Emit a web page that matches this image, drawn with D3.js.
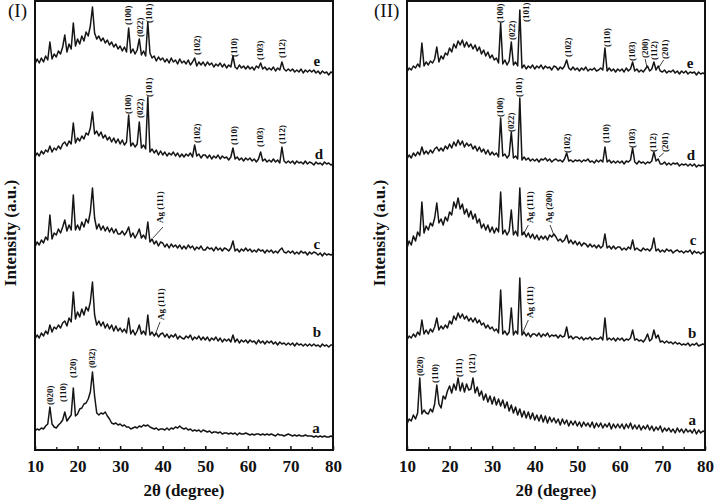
<!DOCTYPE html>
<html>
<head>
<meta charset="utf-8">
<title>XRD patterns</title>
<style>
    body { margin: 0; background: #fff; }
    text { font-family: "Liberation Serif", "Times New Roman", serif; fill: #111; }
</style>
</head>
<body>
<svg id="chart" width="714" height="503"></svg>
<script src="https://d3js.org/d3.v7.min.js"></script>
<script>
// 2-theta sampling grid (0.5 degree steps from 10 to 80)
var theta = d3.range(10, 80.001, 0.5);
var curveNames = ["a", "b", "c", "d", "e"];
var offsets = [0, 95, 190, 280, 370];   // vertical stacking of a..e
var majorTicks = [10, 20, 30, 40, 50, 60, 70, 80];
var minorTicks = [15, 25, 35, 45, 55, 65, 75];

// panel (I) intensities
var leftE = [
16,21,17,22,18,24,20,38,21,26,
23,29,26,33,45,28,36,31,57,34,
41,36,44,39,48,44,54,73,47,41,
44,39,42,37,40,35,38,33,36,31,
34,29,33,28,52,27,31,26,30,41,
25,29,24,58,27,22,24,19,23,20,
22,18,21,17,22,18,20,16,21,17,
19,16,20,15,18,22,14,18,15,18,
14,18,15,17,13,16,14,17,13,16,
12,15,13,24,13,11,15,12,14,11,
14,11,13,10,14,12,17,11,13,10,
12,10,13,9,12,10,18,11,9,11,
9,11,8,10,8,11,7,10,8,10,
8,10,7,9,6,9,7,8,5,8,
7];
var leftD = [
13,17,14,19,16,20,18,24,18,22,
20,24,21,26,28,24,29,26,47,27,
32,29,34,31,37,35,42,58,36,39,
34,38,32,35,30,33,28,32,27,31,
26,30,25,28,55,24,27,23,26,48,
22,25,21,73,18,21,17,20,15,19,
15,18,14,17,15,18,14,17,13,16,
13,16,14,17,13,25,14,16,12,15,
15,12,15,11,14,12,15,11,14,12,
13,10,13,22,11,13,10,12,9,12,
10,12,9,11,8,11,18,9,11,8,
10,8,11,8,10,7,23,9,7,9,
7,9,6,9,7,8,6,9,6,8,
7,5,8,6,7,5,8,6,7,5,
6];
var leftC = [
13,18,15,20,17,23,20,45,21,27,
25,31,27,33,40,29,35,30,65,30,
35,30,38,33,41,37,48,72,42,31,
36,30,34,29,33,28,32,27,31,26,
26,29,25,28,33,23,27,22,26,31,
22,25,21,38,18,21,16,19,14,18,
17,13,16,12,16,13,15,12,15,11,
14,11,15,12,14,10,13,11,14,10,
10,13,11,12,9,13,10,12,9,12,
11,9,12,19,9,11,8,11,9,12,
9,11,8,10,8,11,9,10,7,10,
8,10,7,9,7,10,12,8,7,9,
7,9,6,8,6,9,7,8,5,8,
6,8,7,5,7,4,7,5,6,5,
6];
var leftB = [
16,20,17,22,19,24,21,30,23,28,
26,30,27,32,34,29,37,33,63,36,
43,38,46,40,48,44,53,73,40,30,
34,29,33,27,31,26,30,24,29,24,
27,23,26,22,37,21,25,20,24,30,
21,24,20,40,20,23,19,22,18,21,
22,18,21,17,20,18,21,16,19,17,
16,19,17,20,15,18,16,19,15,18,
15,18,14,17,15,18,14,17,13,16,
14,16,13,20,13,16,12,15,13,15,
12,15,13,14,11,15,12,14,11,14,
12,14,11,13,10,13,11,12,10,12,
10,12,9,12,10,11,9,11,9,11,
9,11,9,10,8,11,9,10,8,10,
10];
var leftA = [
19,21,20,22,21,24,26,43,26,23,
22,25,27,30,38,29,32,35,62,34,
36,41,42,46,47,51,58,78,54,37,
35,37,36,38,34,31,27,26,27,25,
26,24,25,23,23,21,22,23,22,24,
23,25,24,25,23,22,21,22,20,21,
21,20,22,20,22,21,23,22,24,22,
21,22,20,21,19,20,19,20,18,20,
19,18,19,17,18,18,17,18,16,17,
17,16,17,16,17,15,17,16,16,17,
16,15,16,15,16,16,15,16,15,16,
15,16,15,14,16,15,15,14,15,16,
15,14,15,14,15,14,14,15,14,14,
14,13,14,13,14,13,14,13,13,14,
13];

// panel (II) intensities
var rightE = [
8,12,10,14,12,16,13,37,14,18,
15,19,17,21,33,18,24,21,27,25,
32,28,36,32,39,35,40,33,38,33,
36,31,35,29,33,26,30,24,28,22,
25,20,22,17,57,16,20,15,19,38,
15,18,14,70,12,15,11,14,12,15,
11,14,12,15,11,14,12,13,10,14,
13,10,13,11,14,20,12,10,13,10,
12,9,12,10,13,9,11,10,12,9,
10,12,10,32,9,12,9,11,8,11,
9,11,8,12,9,11,18,9,11,8,
10,8,11,14,9,11,18,10,14,9,
8,10,7,9,8,10,7,9,6,9,
7,9,6,8,7,8,5,8,6,7,
6];
var rightD = [
11,15,12,17,14,18,15,23,16,19,
16,20,17,21,23,19,22,19,24,21,
26,22,28,24,30,25,29,23,27,24,
26,21,24,19,23,18,21,16,20,15,
18,15,17,13,52,14,16,12,15,38,
12,14,11,72,10,13,10,12,9,11,
9,11,8,11,10,12,9,11,8,10,
11,9,10,8,11,17,9,10,8,10,
9,10,8,10,9,11,8,9,7,10,
8,10,8,23,8,10,7,9,7,9,
7,9,6,9,8,10,22,8,6,9,
7,8,6,8,7,9,18,9,11,6,
6,8,5,7,5,7,6,7,4,6,
5,6,4,6,4,6,3,5,4,5,
4];
var rightC = [
12,19,15,24,19,28,24,58,27,34,
30,37,34,42,57,37,41,35,43,39,
48,45,58,52,62,51,56,46,51,43,
49,41,46,37,41,32,36,30,35,28,
33,27,32,28,68,26,30,25,29,50,
25,29,24,72,25,28,23,27,22,26,
21,25,20,24,21,24,20,25,23,26,
23,19,21,18,20,25,17,20,16,19,
15,18,14,17,16,13,16,13,15,12,
15,12,14,26,12,14,11,14,11,13,
13,10,12,10,13,11,20,10,12,10,
9,12,10,11,9,12,22,9,11,8,
10,8,11,9,10,7,9,10,8,9,
7,9,8,10,6,9,7,8,6,8,
7];
var rightB = [
15,19,17,21,18,23,20,35,21,25,
21,26,23,28,37,25,29,26,30,27,
34,31,39,35,42,37,41,36,39,34,
37,33,37,32,35,30,32,27,30,26,
28,24,26,22,65,21,24,20,23,47,
20,24,21,77,20,23,19,22,18,21,
21,19,22,18,21,19,22,18,20,19,
20,17,20,18,19,28,17,19,16,18,
18,16,18,15,17,16,18,15,17,16,
16,18,15,37,15,17,15,17,14,17,
15,17,14,16,15,17,25,15,16,14,
15,13,16,21,14,16,25,17,20,13,
14,12,14,12,13,11,13,11,12,10,
11,10,12,9,11,10,12,9,10,11,
10];
var rightA = [
26,31,29,35,31,37,72,36,40,37,
36,41,38,46,65,46,42,54,51,59,
64,57,66,60,72,59,67,58,66,60,
61,72,57,63,54,59,50,56,48,54,
46,53,45,51,44,50,42,48,39,45,
37,43,35,41,33,39,32,38,31,37,
30,35,29,35,28,34,27,33,28,32,
27,31,25,31,26,30,24,29,25,29,
24,28,23,28,24,27,23,28,22,27,
23,27,22,26,23,27,21,26,22,26,
22,26,21,26,22,27,21,25,21,25,
20,24,21,25,20,24,19,23,20,24,
18,22,19,22,18,21,17,22,18,21,
17,21,18,20,17,21,16,20,17,19,
18];

// peak labels: [curve, 2theta, intensity at text start, text]
var leftLabels = [
    [4, 31.85, 55, "(100)"], [4, 34.67, 43, "(022)"], [4, 36.8, 57, "(101)"], [4, 48.05, 25, "(102)"],
    [4, 56.75, 23, "(110)"], [4, 62.85, 20, "(103)"], [4, 68.0, 22, "(112)"],
    [3, 31.85, 56, "(100)"], [3, 34.67, 52, "(022)"], [3, 36.8, 73, "(101)"], [3, 48.05, 27, "(102)"],
    [3, 56.75, 25, "(110)"], [3, 62.85, 23, "(103)"], [3, 68.0, 26, "(112)"],
    [2, 39.36, 37, "Ag (111)"],
    [1, 39.6, 35, "Ag (111)"],
    [0, 13.52, 45, "(020)"], [0, 16.58, 48, "(110)"], [0, 18.93, 72, "(120)"], [0, 23.39, 82, "(032)"]
];
var rightLabels = [
    [4, 31.85, 57, "(100)"], [4, 34.67, 40, "(022)"], [4, 37.95, 58, "(101)"], [4, 47.82, 23, "(102)"],
    [4, 56.98, 33, "(110)"], [4, 62.86, 19, "(103)"], [4, 65.9, 22, "(200)"], [4, 68.0, 20, "(112)"], [4, 70.6, 21, "(201)"],
    [3, 31.85, 53, "(100)"], [3, 34.43, 38, "(022)"], [3, 36.3, 73, "(101)"], [3, 47.6, 17, "(102)"],
    [3, 56.75, 27, "(110)"], [3, 62.86, 22, "(103)"], [3, 67.8, 18, "(112)"], [3, 70.6, 18, "(201)"],
    [2, 38.9, 37, "Ag (111)"], [2, 43.36, 37, "Ag (200)"],
    [1, 38.9, 37, "Ag (111)"],
    [0, 13.05, 74, "(020)"], [0, 16.58, 67, "(110)"], [0, 22.2, 73, "(111)"], [0, 25.27, 77, "(121)"]
];
// leader lines: [curve, 2theta1, int1, 2theta2, int2]
var leftLeaders = [[2, 40.07, 33, 37.7, 22], [1, 39.36, 33, 38.19, 20]];
var rightLeaders = [
    [4, 65.95, 21, 66.4, 12], [4, 70.3, 20, 69.2, 13], [3, 70.3, 17, 69.2, 13],
    [2, 38.5, 35, 37.25, 25], [2, 43.6, 35, 44.5, 25], [1, 38.5, 35, 37.25, 23]
];
// curve letters: [curve, 2theta, intensity]
var leftLetters = [[4, 76.2, 19], [3, 76.7, 16], [2, 76.2, 16], [1, 76.2, 23], [0, 76.0, 22]];
var rightLetters = [[4, 76.5, 17], [3, 76.7, 15], [2, 77.2, 20], [1, 77.0, 22], [0, 77.0, 30]];

var svg = d3.select("#chart");
svg.append("rect").attr("width", 714).attr("height", 503).attr("fill", "#fff");

var plotW = 298, plotTop = 1, plotBottom = 450;

var panels = [
    { left: 35, title: "(I)", titleX: 8, yTitleX: 10,
      curves: [leftA, leftB, leftC, leftD, leftE], labels: leftLabels, leaders: leftLeaders, letters: leftLetters },
    { left: 407, title: "(II)", titleX: 374, yTitleX: 379,
      curves: [rightA, rightB, rightC, rightD, rightE], labels: rightLabels, leaders: rightLeaders, letters: rightLetters }
];

panels.forEach(function(p) {
    var x = d3.scaleLinear().domain([10, 80]).range([p.left, p.left + plotW]);
    var y = d3.scaleLinear().domain([0, 449]).range([plotBottom, plotTop]);
    var g = svg.append("g");

    p.curves.forEach(function(vals, ci) {
        var line = d3.line()
            .x(function(d, i) { return x(theta[i]); })
            .y(function(d) { return y(d + offsets[ci]); });
        g.append("path")
            .datum(vals)
            .attr("d", line)
            .attr("fill", "none")
            .attr("stroke", "#151515")
            .attr("stroke-width", 1.5)
            .attr("stroke-linejoin", "round");
    });

    // axes
    var xAxis = d3.axisBottom(x).tickValues(majorTicks).tickSize(-4).tickPadding(10).tickFormat(d3.format("d"));
    var ax = g.append("g").attr("transform", "translate(0," + plotBottom + ")").call(xAxis);
    ax.select(".domain").remove();
    ax.selectAll("line").attr("stroke", "#111").attr("stroke-width", 1.5);
    ax.selectAll("text")
        .style("font-family", "'Liberation Serif', serif")
        .style("font-size", "17px")
        .style("font-weight", "bold")
        .attr("fill", "#111");

    var minor = g.append("g").attr("transform", "translate(0," + plotBottom + ")")
        .call(d3.axisBottom(x).tickValues(minorTicks).tickSize(-3).tickFormat(""));
    minor.select(".domain").remove();
    minor.selectAll("line").attr("stroke", "#111").attr("stroke-width", 1.3);

    // frame
    g.append("rect")
        .attr("x", p.left).attr("y", plotTop)
        .attr("width", plotW).attr("height", plotBottom - plotTop)
        .attr("fill", "none").attr("stroke", "#111").attr("stroke-width", 2);

    // peak labels
    g.selectAll("text.peak")
        .data(p.labels)
        .enter()
        .append("text")
        .attr("class", "peak")
        .attr("transform", function(d) {
            return "translate(" + x(d[1]) + "," + y(d[2] + offsets[d[0]]) + ") rotate(-90)";
        })
        .attr("dy", "0.35em")
        .style("font-size", "9px")
        .style("font-weight", "bold")
        .text(function(d) { return d[3]; });

    g.selectAll("line.leader")
        .data(p.leaders)
        .enter()
        .append("line")
        .attr("class", "leader")
        .attr("x1", function(d) { return x(d[1]); })
        .attr("y1", function(d) { return y(d[2] + offsets[d[0]]); })
        .attr("x2", function(d) { return x(d[3]); })
        .attr("y2", function(d) { return y(d[4] + offsets[d[0]]); })
        .attr("stroke", "#111")
        .attr("stroke-width", 0.8);

    // curve letters
    g.selectAll("text.letter")
        .data(p.letters)
        .enter()
        .append("text")
        .attr("class", "letter")
        .attr("x", function(d) { return x(d[1]); })
        .attr("y", function(d) { return y(d[2] + offsets[d[0]]); })
        .attr("dy", "0.35em")
        .attr("text-anchor", "middle")
        .style("font-size", "15px")
        .style("font-weight", "bold")
        .text(function(d) { return curveNames[d[0]]; });

    // titles
    g.append("text")
        .attr("x", p.left + plotW / 2).attr("y", 496)
        .attr("text-anchor", "middle")
        .style("font-size", "17px").style("font-weight", "bold")
        .text("2θ (degree)");

    g.append("text")
        .attr("transform", "translate(" + p.yTitleX + ",233) rotate(-90)")
        .attr("text-anchor", "middle")
        .attr("dy", "0.35em")
        .style("font-size", "17px").style("font-weight", "bold")
        .text("Intensity (a.u.)");

    g.append("text")
        .attr("x", p.titleX).attr("y", 17)
        .style("font-size", "19px")
        .text(p.title);
});
</script>
</body>
</html>
